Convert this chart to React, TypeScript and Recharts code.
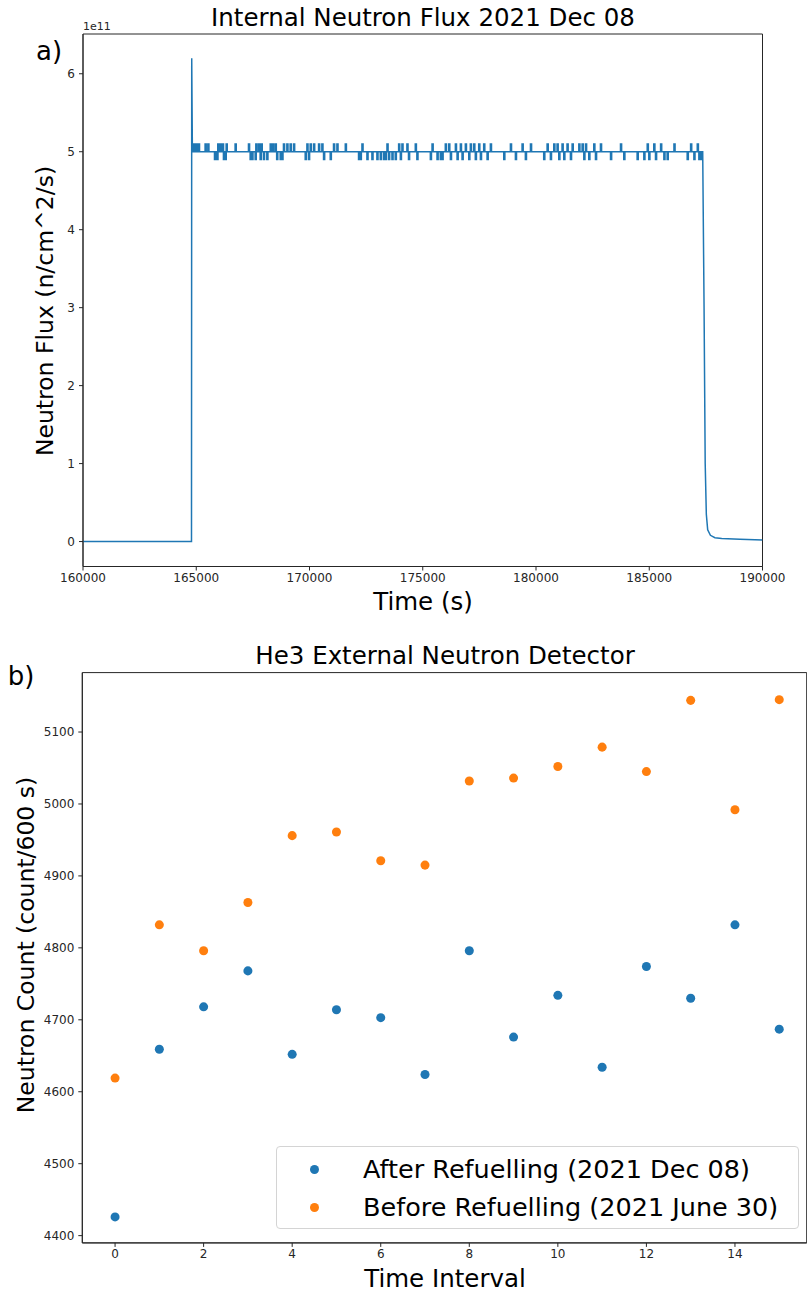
import {
  LineChart,
  Line,
  XAxis,
  YAxis,
  ReferenceArea,
  ScatterChart,
  Scatter,
  Legend,
} from 'recharts'

const FONT = "'DejaVu Sans', sans-serif"
const BLUE = '#1f77b4'
const ORANGE = '#ff7f0e'
const INK = '#262626'

// a) internal flux, values in units of 1e11 n/cm^2/s
const RISE_TIME = [160000, 164000, 164790, 164800, 164830]
const RISE_FLUX = [0, 0, 0, 6.2, 5.0]
const BLIP_UP = [
  164875, 164980, 165095, 165390, 165510, 165950, 166055, 166155, 166320, 166715,
  167305, 167630, 167750, 167865, 168265, 168365, 168485, 168850, 169000, 169145,
  169295, 169885, 170030, 170180, 170400, 170545, 171060, 171210, 171580, 172315,
  173420, 173935, 174080, 174300, 174670, 175410, 175995, 176145, 176440, 176660,
  176880, 177100, 177250, 177470, 177690, 177985, 178870, 179385, 179755, 180490,
  180785, 180930, 181150, 181370, 181595, 181890, 182035, 182185, 182550, 182845,
  183730, 184910, 185200, 185500, 186090, 186825, 187120,
]
const BLIP_DOWN = [
  165805, 165910, 166200, 166275, 167380, 167455, 167600, 167820, 167965, 168115,
  168550, 168705, 168780, 169810, 169955, 170620, 170915, 172165, 172240, 172535,
  172755, 172975, 173125, 173270, 173345, 173490, 173640, 173785, 174010, 174370,
  174740, 175335, 175630, 175775, 175850, 176220, 176515, 176735, 177030, 177320,
  177545, 177840, 178575, 179090, 179530, 180340, 180635, 181005, 181225, 181520,
  182110, 182330, 182625, 183290, 183875, 184465, 184760, 184980, 185275, 185645,
  185790, 186675, 186970, 187190, 187300,
]
const BLIP_WIDTH = 50
const FALL_TIME = [187360, 187420, 187470, 187520, 187580, 187700, 187900, 188200, 189000, 190000]
const FALL_FLUX = [5.0, 3.0, 1.0, 0.35, 0.15, 0.08, 0.05, 0.04, 0.03, 0.02]
const FLUX_X_TICKS = [160000, 165000, 170000, 175000, 180000, 185000, 190000]
const FLUX_Y_TICKS = [0, 1, 2, 3, 4, 5, 6]
const FLUX_X_DOMAIN = [160000, 190000]
const FLUX_Y_DOMAIN = [-0.32, 6.51]

// b) He3 detector counts per 600 s interval
const INTERVALS = [0, 1, 2, 3, 4, 5, 6, 7, 8, 9, 10, 11, 12, 13, 14, 15]
const AFTER_COUNTS = [4426, 4659, 4718, 4768, 4652, 4714, 4703, 4624, 4796, 4676, 4734, 4634, 4774, 4730, 4832, 4687]
const BEFORE_COUNTS = [4619, 4832, 4796, 4863, 4956, 4961, 4921, 4915, 5032, 5036, 5052, 5079, 5045, 5144, 4992, 5145]
const INTERVAL_TICKS = [0, 2, 4, 6, 8, 10, 12, 14]
const COUNT_TICKS = [4400, 4500, 4600, 4700, 4800, 4900, 5000, 5100]
const INTERVAL_DOMAIN = [-0.74, 15.62]
const COUNT_DOMAIN = [4389.9, 5182.6]

const blips = [
  ...BLIP_UP.map((t) => ({ t, level: 5.1 })),
  ...BLIP_DOWN.map((t) => ({ t, level: 4.9 })),
].sort((a, b) => a.t - b.t)

const fluxData = [
  ...RISE_TIME.map((t, i) => ({ t, flux: RISE_FLUX[i] })),
  ...blips.flatMap(({ t, level }) => [
    { t, flux: 5 },
    { t, flux: level },
    { t: t + BLIP_WIDTH, flux: level },
    { t: t + BLIP_WIDTH, flux: 5 },
  ]),
  ...FALL_TIME.map((t, i) => ({ t, flux: FALL_FLUX[i] })),
]

const afterData = INTERVALS.map((x, i) => ({ x, y: AFTER_COUNTS[i] }))
const beforeData = INTERVALS.map((x, i) => ({ x, y: BEFORE_COUNTS[i] }))

const tickStyle = { fontSize: 12, fill: INK, fontFamily: FONT }

const Text = ({ x, y, size, rotate = false, children }: any) => (
  <div
    style={{
      position: 'absolute',
      left: x,
      top: y,
      fontSize: size,
      whiteSpace: 'nowrap',
      lineHeight: 1,
      transform: `translate(-50%, -50%)${rotate ? ' rotate(-90deg)' : ''}`,
    }}
  >
    {children}
  </div>
)

const renderLegend = (props: any) => (
  <div
    style={{
      width: 523,
      height: 83,
      boxSizing: 'border-box',
      border: '1px solid #d4d4d4',
      borderRadius: 4,
      background: 'rgba(255,255,255,0.8)',
      position: 'relative',
      fontFamily: FONT,
    }}
  >
    {(props.payload || []).map((entry: any, i: number) => (
      <div
        key={entry.value}
        style={{ position: 'absolute', left: 0, top: 3 + i * 38, height: 38, display: 'flex', alignItems: 'center' }}
      >
        <span style={{ width: 9, height: 9, borderRadius: '50%', background: entry.color, marginLeft: 33 }} />
        <span style={{ marginLeft: 44, fontSize: 25.5, color: '#000' }}>{entry.value}</span>
      </div>
    ))}
  </div>
)

export default function App() {
  return (
    <div
      style={{
        position: 'absolute',
        left: 0,
        top: 0,
        width: 807,
        height: 1295,
        overflow: 'hidden',
        background: '#fff',
        fontFamily: FONT,
        color: '#000',
      }}
    >
      {/* a) internal neutron flux */}
      <div style={{ position: 'absolute', left: 0, top: 0 }}>
        <LineChart width={807} height={620} data={fluxData} margin={{ top: 34, right: 44.5, left: 0, bottom: 23.5 }}>
          <XAxis
            dataKey="t"
            type="number"
            domain={FLUX_X_DOMAIN}
            ticks={FLUX_X_TICKS}
            interval={0}
            height={30}
            tickSize={4}
            tickMargin={3}
            tick={tickStyle}
            stroke={INK}
            allowDataOverflow
          />
          <YAxis
            type="number"
            domain={FLUX_Y_DOMAIN}
            ticks={FLUX_Y_TICKS}
            interval={0}
            width={83}
            tickSize={4}
            tickMargin={4}
            tick={tickStyle}
            stroke={INK}
            allowDataOverflow
          />
          <ReferenceArea
            x1={FLUX_X_DOMAIN[0]}
            x2={FLUX_X_DOMAIN[1]}
            y1={FLUX_Y_DOMAIN[0]}
            y2={FLUX_Y_DOMAIN[1]}
            fill="none"
            stroke={INK}
            fillOpacity={0}
            ifOverflow="visible"
          />
          <Line
            type="linear"
            dataKey="flux"
            stroke={BLUE}
            strokeWidth={1.5}
            dot={false}
            isAnimationActive={false}
          />
        </LineChart>
      </div>

      {/* b) He3 external detector */}
      <div style={{ position: 'absolute', left: 0, top: 625 }}>
        <ScatterChart width={807} height={670} margin={{ top: 47.6, right: 0.3, left: 0, bottom: 22.1 }}>
          <XAxis
            dataKey="x"
            type="number"
            domain={INTERVAL_DOMAIN}
            ticks={INTERVAL_TICKS}
            interval={0}
            height={30}
            tickSize={4}
            tickMargin={3}
            tick={tickStyle}
            stroke={INK}
            allowDataOverflow
          />
          <YAxis
            dataKey="y"
            type="number"
            domain={COUNT_DOMAIN}
            ticks={COUNT_TICKS}
            interval={0}
            width={82.3}
            tickSize={4}
            tickMargin={4}
            tick={tickStyle}
            stroke={INK}
            allowDataOverflow
          />
          <ReferenceArea
            x1={INTERVAL_DOMAIN[0]}
            x2={INTERVAL_DOMAIN[1]}
            y1={COUNT_DOMAIN[0]}
            y2={COUNT_DOMAIN[1]}
            fill="none"
            stroke={INK}
            fillOpacity={0}
            ifOverflow="visible"
          />
          <Legend
            layout="horizontal"
            verticalAlign="middle"
            align="center"
            content={renderLegend}
            wrapperStyle={{ position: 'absolute', left: 276, top: 521, width: 523, height: 83 }}
          />
          <Scatter name="After Refuelling (2021 Dec 08)" data={afterData} fill={BLUE} isAnimationActive={false} />
          <Scatter name="Before Refuelling (2021 June 30)" data={beforeData} fill={ORANGE} isAnimationActive={false} />
        </ScatterChart>
      </div>

      <Text x={49} y={51} size={26}>a)</Text>
      <div style={{ position: 'absolute', left: 83, top: 21, fontSize: 11, lineHeight: 1, color: INK }}>1e11</div>
      <Text x={423} y={18} size={24.5}>Internal Neutron Flux 2021 Dec 08</Text>
      <Text x={46} y={311} size={23.5} rotate>Neutron Flux (n/cm^2/s)</Text>
      <Text x={423} y={602} size={24.5}>Time (s)</Text>

      <Text x={21} y={676} size={26}>b)</Text>
      <Text x={445} y={656} size={24.5}>He3 External Neutron Detector</Text>
      <Text x={27} y={945} size={23.5} rotate>Neutron Count (count/600 s)</Text>
      <Text x={445} y={1279} size={24.5}>Time Interval</Text>
    </div>
  )
}
